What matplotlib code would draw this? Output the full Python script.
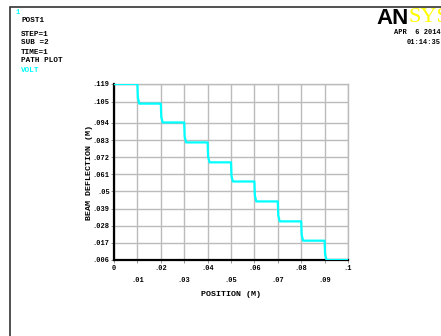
import numpy as np
import matplotlib.pyplot as plt
from matplotlib.patches import Rectangle

# path plot data: beam deflection along position
step_x = [0.0, 0.01, 0.02, 0.03, 0.04, 0.05, 0.06, 0.07, 0.08, 0.09]
levels = [0.119, 0.1064, 0.0943, 0.0815, 0.0687, 0.0564, 0.0436, 0.0308, 0.0184, 0.006]
x_end = 0.1

ytick_vals = [0.006, 0.017, 0.028, 0.039, 0.05, 0.061, 0.072, 0.083, 0.094, 0.1077, 0.119]
ytick_labels = ['.006', '.017', '.028', '.039', '.05', '.061', '.072', '.083', '.094', '.105', '.119']
xtick_vals = [0, 0.01, 0.02, 0.03, 0.04, 0.05, 0.06, 0.07, 0.08, 0.09, 0.1]
xtick_labels = ['0', '.01', '.02', '.03', '.04', '.05', '.06', '.07', '.08', '.09', '.1']

header_left = ['POST1', '', 'STEP=1', 'SUB =2', 'TIME=1', 'PATH PLOT']

mono = 'Liberation Mono'

# build the stepped path (small slope at each drop, like the ANSYS plot)
px, py = [step_x[0]], [levels[0]]
for i in range(1, len(levels)):
    x0 = step_x[i]
    px += [x0, x0 + 0.0002, x0 + 0.0008]
    py += [levels[i - 1], levels[i - 1] - 0.7 * (levels[i - 1] - levels[i]), levels[i]]
px.append(x_end)
py.append(levels[-1])

fig = plt.figure(figsize=(4.41, 3.36), dpi=100)
fig.patch.set_facecolor('white')

# outer frame of the graphics window
fig.patches.append(Rectangle((10 / 441, -0.1), 1.2, 1 - 7 / 336 + 0.1, transform=fig.transFigure,
                             fill=False, ec='#333333', lw=1.2))

ax = fig.add_axes([114 / 441, 1 - 260 / 336, 234 / 441, 176 / 336])
ax.plot(px, py, color='#00FFFF', lw=1.6, zorder=3)
ax.set_xlim(0, 0.1)
ax.set_ylim(0.006, 0.119)

ax.set_yticks(ytick_vals)
ax.set_yticklabels(ytick_labels, fontfamily=mono, fontsize=5, fontweight='bold')
ax.set_xticks(xtick_vals)
ax.set_xticklabels([])
for i, (v, lab) in enumerate(zip(xtick_vals, xtick_labels)):
    dy = -8 if i % 2 == 0 else -20
    ax.annotate(lab, (v, 0), xycoords=('data', 'axes fraction'), xytext=(0, dy),
                textcoords='offset pixels', ha='center', va='center',
                fontfamily=mono, fontsize=5, fontweight='bold')
ax.tick_params(length=2, width=0.6, color='#888888', pad=1)
ax.grid(True, color='#BBBBBB', lw=1)

for side in ['top', 'right']:
    ax.spines[side].set_color('#BBBBBB')
    ax.spines[side].set_linewidth(1)
for side in ['left', 'bottom']:
    ax.spines[side].set_color('black')
    ax.spines[side].set_linewidth(1.6)

ax.set_xlabel('POSITION (M)', fontfamily=mono, fontsize=6, fontweight='bold')
ax.xaxis.set_label_coords(0.5, -31 / 176)
ax.set_ylabel('BEAM DEFLECTION (M)', fontfamily=mono, fontsize=6, fontweight='bold')
ax.yaxis.set_label_coords(-21 / 234, 0.5)

# header texts
fig.text(15 / 441, 1 - 13 / 336, '1', color='#00FFFF', fontfamily=mono, fontsize=5,
         fontweight='bold', va='center')
for i, t in enumerate(header_left):
    ys = [21, 0, 35, 43, 52, 61][i]
    if t:
        fig.text(21 / 441, 1 - ys / 336, t, fontfamily=mono, fontsize=5.5, fontweight='bold', va='center')
fig.text(21 / 441, 1 - 70 / 336, 'VOLT', color='#00FFFF', fontfamily=mono, fontsize=5.5,
         fontweight='bold', va='center')

fig.text(376 / 441, 1 - 18 / 336, 'AN', fontfamily='Liberation Sans', fontsize=16,
         fontweight='bold', va='center')
fig.text(409 / 441, 1 - 18 / 336, 'SYS', color='#FFFF00', fontfamily='Liberation Serif',
         fontsize=16, va='center')
fig.text(441 / 441, 1 - 33 / 336, 'APR  6 2014', fontfamily=mono, fontsize=5,
         fontweight='bold', va='center', ha='right')
fig.text(441 / 441, 1 - 43 / 336, '01:14:35', fontfamily=mono, fontsize=5,
         fontweight='bold', va='center', ha='right')

fig.savefig('out.png', dpi=100)
